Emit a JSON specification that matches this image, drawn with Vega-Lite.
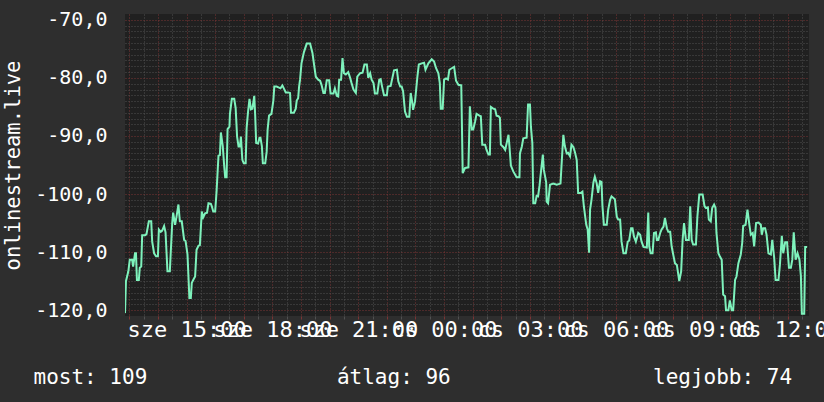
{
  "$schema": "https://vega.github.io/schema/vega-lite/v6.json",
  "width": 684,
  "height": 302,
  "autosize": {"type": "none"},
  "padding": {"left": 125, "top": 14, "right": 15, "bottom": 86},
  "background": "#2e2e2e",
  "view": {"fill": "#202020", "stroke": null},
  "config": {"font": "DejaVu Sans Mono"},
  "data": {"values": [
        {"t":"2024-01-03T12:51","v":-120.5},{"t":"2024-01-03T12:53","v":-115.0},{"t":"2024-01-03T12:58","v":-113.3},{"t":"2024-01-03T13:01","v":-111.3},{"t":"2024-01-03T13:06","v":-111.3},{"t":"2024-01-03T13:08","v":-112.5},{"t":"2024-01-03T13:12","v":-110.2},{"t":"2024-01-03T13:14","v":-110.2},{"t":"2024-01-03T13:16","v":-114.8},{"t":"2024-01-03T13:20","v":-114.8},{"t":"2024-01-03T13:22","v":-112.7},{"t":"2024-01-03T13:25","v":-112.5},{"t":"2024-01-03T13:27","v":-107.1},{"t":"2024-01-03T13:33","v":-107.1},{"t":"2024-01-03T13:36","v":-106.9},{"t":"2024-01-03T13:41","v":-104.7},{"t":"2024-01-03T13:46","v":-104.7},{"t":"2024-01-03T13:48","v":-108.2},{"t":"2024-01-03T13:52","v":-110.2},{"t":"2024-01-03T13:56","v":-110.7},{"t":"2024-01-03T14:00","v":-110.7},{"t":"2024-01-03T14:02","v":-106.1},{"t":"2024-01-03T14:06","v":-106.5},{"t":"2024-01-03T14:09","v":-106.3},{"t":"2024-01-03T14:13","v":-105.5},{"t":"2024-01-03T14:16","v":-106.6},{"t":"2024-01-03T14:20","v":-113.3},{"t":"2024-01-03T14:25","v":-113.3},{"t":"2024-01-03T14:27","v":-109.9},{"t":"2024-01-03T14:30","v":-105.0},{"t":"2024-01-03T14:32","v":-103.2},{"t":"2024-01-03T14:36","v":-105.3},{"t":"2024-01-03T14:39","v":-103.9},{"t":"2024-01-03T14:43","v":-101.8},{"t":"2024-01-03T14:46","v":-104.7},{"t":"2024-01-03T14:50","v":-104.7},{"t":"2024-01-03T14:55","v":-107.9},{"t":"2024-01-03T14:58","v":-108.1},{"t":"2024-01-03T15:02","v":-110.4},{"t":"2024-01-03T15:06","v":-117.9},{"t":"2024-01-03T15:09","v":-117.9},{"t":"2024-01-03T15:11","v":-115.3},{"t":"2024-01-03T15:14","v":-114.8},{"t":"2024-01-03T15:18","v":-114.2},{"t":"2024-01-03T15:21","v":-109.6},{"t":"2024-01-03T15:25","v":-108.9},{"t":"2024-01-03T15:28","v":-108.8},{"t":"2024-01-03T15:32","v":-103.0},{"t":"2024-01-03T15:35","v":-104.0},{"t":"2024-01-03T15:39","v":-103.3},{"t":"2024-01-03T15:43","v":-103.2},{"t":"2024-01-03T15:46","v":-101.6},{"t":"2024-01-03T15:51","v":-101.7},{"t":"2024-01-03T15:53","v":-102.1},{"t":"2024-01-03T15:56","v":-103.0},{"t":"2024-01-03T16:00","v":-103.0},{"t":"2024-01-03T16:03","v":-99.5},{"t":"2024-01-03T16:07","v":-93.4},{"t":"2024-01-03T16:10","v":-93.3},{"t":"2024-01-03T16:12","v":-89.4},{"t":"2024-01-03T16:16","v":-91.8},{"t":"2024-01-03T16:19","v":-95.2},{"t":"2024-01-03T16:21","v":-97.1},{"t":"2024-01-03T16:24","v":-97.1},{"t":"2024-01-03T16:26","v":-88.8},{"t":"2024-01-03T16:30","v":-88.4},{"t":"2024-01-03T16:31","v":-86.2},{"t":"2024-01-03T16:35","v":-83.6},{"t":"2024-01-03T16:40","v":-83.6},{"t":"2024-01-03T16:43","v":-85.2},{"t":"2024-01-03T16:46","v":-90.1},{"t":"2024-01-03T16:49","v":-91.8},{"t":"2024-01-03T16:52","v":-91.8},{"t":"2024-01-03T16:54","v":-90.1},{"t":"2024-01-03T16:57","v":-94.1},{"t":"2024-01-03T17:00","v":-94.7},{"t":"2024-01-03T17:04","v":-94.7},{"t":"2024-01-03T17:06","v":-88.6},{"t":"2024-01-03T17:09","v":-85.8},{"t":"2024-01-03T17:12","v":-83.6},{"t":"2024-01-03T17:15","v":-85.4},{"t":"2024-01-03T17:18","v":-85.3},{"t":"2024-01-03T17:20","v":-84.2},{"t":"2024-01-03T17:22","v":-83.1},{"t":"2024-01-03T17:24","v":-86.6},{"t":"2024-01-03T17:26","v":-91.2},{"t":"2024-01-03T17:30","v":-91.3},{"t":"2024-01-03T17:33","v":-90.3},{"t":"2024-01-03T17:35","v":-90.3},{"t":"2024-01-03T17:38","v":-91.8},{"t":"2024-01-03T17:40","v":-94.7},{"t":"2024-01-03T17:45","v":-94.7},{"t":"2024-01-03T17:48","v":-92.7},{"t":"2024-01-03T17:50","v":-88.9},{"t":"2024-01-03T17:53","v":-86.5},{"t":"2024-01-03T17:58","v":-86.2},{"t":"2024-01-03T18:02","v":-83.9},{"t":"2024-01-03T18:04","v":-81.5},{"t":"2024-01-03T18:09","v":-81.5},{"t":"2024-01-03T18:17","v":-81.8},{"t":"2024-01-03T18:21","v":-81.3},{"t":"2024-01-03T18:28","v":-82.5},{"t":"2024-01-03T18:33","v":-82.5},{"t":"2024-01-03T18:37","v":-82.6},{"t":"2024-01-03T18:39","v":-86.0},{"t":"2024-01-03T18:45","v":-86.0},{"t":"2024-01-03T18:49","v":-85.3},{"t":"2024-01-03T18:51","v":-83.9},{"t":"2024-01-03T18:54","v":-83.5},{"t":"2024-01-03T18:56","v":-81.5},{"t":"2024-01-03T18:58","v":-80.3},{"t":"2024-01-03T19:01","v":-77.5},{"t":"2024-01-03T19:06","v":-75.6},{"t":"2024-01-03T19:12","v":-74.1},{"t":"2024-01-03T19:19","v":-74.1},{"t":"2024-01-03T19:24","v":-75.7},{"t":"2024-01-03T19:27","v":-77.5},{"t":"2024-01-03T19:31","v":-79.8},{"t":"2024-01-03T19:36","v":-80.3},{"t":"2024-01-03T19:40","v":-80.5},{"t":"2024-01-03T19:43","v":-81.2},{"t":"2024-01-03T19:47","v":-82.6},{"t":"2024-01-03T19:50","v":-82.6},{"t":"2024-01-03T19:54","v":-80.4},{"t":"2024-01-03T19:59","v":-80.4},{"t":"2024-01-03T20:02","v":-82.7},{"t":"2024-01-03T20:08","v":-82.7},{"t":"2024-01-03T20:11","v":-81.8},{"t":"2024-01-03T20:15","v":-83.1},{"t":"2024-01-03T20:18","v":-83.2},{"t":"2024-01-03T20:20","v":-80.3},{"t":"2024-01-03T20:24","v":-80.3},{"t":"2024-01-03T20:27","v":-76.6},{"t":"2024-01-03T20:30","v":-79.2},{"t":"2024-01-03T20:34","v":-79.4},{"t":"2024-01-03T20:39","v":-79.0},{"t":"2024-01-03T20:43","v":-80.0},{"t":"2024-01-03T20:46","v":-80.9},{"t":"2024-01-03T20:50","v":-82.0},{"t":"2024-01-03T20:55","v":-82.6},{"t":"2024-01-03T20:58","v":-79.8},{"t":"2024-01-03T21:04","v":-79.2},{"t":"2024-01-03T21:09","v":-79.1},{"t":"2024-01-03T21:13","v":-77.7},{"t":"2024-01-03T21:18","v":-77.7},{"t":"2024-01-03T21:21","v":-80.0},{"t":"2024-01-03T21:25","v":-79.2},{"t":"2024-01-03T21:28","v":-80.3},{"t":"2024-01-03T21:32","v":-80.9},{"t":"2024-01-03T21:35","v":-82.7},{"t":"2024-01-03T21:40","v":-82.7},{"t":"2024-01-03T21:44","v":-80.3},{"t":"2024-01-03T21:47","v":-80.2},{"t":"2024-01-03T21:50","v":-81.5},{"t":"2024-01-03T21:54","v":-83.0},{"t":"2024-01-03T22:00","v":-83.0},{"t":"2024-01-03T22:02","v":-81.5},{"t":"2024-01-03T22:08","v":-81.4},{"t":"2024-01-03T22:10","v":-80.6},{"t":"2024-01-03T22:15","v":-78.7},{"t":"2024-01-03T22:21","v":-78.6},{"t":"2024-01-03T22:24","v":-80.6},{"t":"2024-01-03T22:28","v":-81.5},{"t":"2024-01-03T22:31","v":-81.5},{"t":"2024-01-03T22:34","v":-82.3},{"t":"2024-01-03T22:38","v":-85.8},{"t":"2024-01-03T22:42","v":-86.7},{"t":"2024-01-03T22:47","v":-86.7},{"t":"2024-01-03T22:50","v":-82.6},{"t":"2024-01-03T22:53","v":-84.1},{"t":"2024-01-03T22:55","v":-85.5},{"t":"2024-01-03T22:59","v":-84.1},{"t":"2024-01-03T23:04","v":-79.8},{"t":"2024-01-03T23:07","v":-77.7},{"t":"2024-01-03T23:13","v":-77.5},{"t":"2024-01-03T23:18","v":-77.4},{"t":"2024-01-03T23:21","v":-78.6},{"t":"2024-01-03T23:27","v":-77.5},{"t":"2024-01-03T23:34","v":-76.8},{"t":"2024-01-03T23:39","v":-77.2},{"t":"2024-01-03T23:43","v":-78.3},{"t":"2024-01-03T23:48","v":-79.2},{"t":"2024-01-03T23:51","v":-80.9},{"t":"2024-01-03T23:53","v":-85.3},{"t":"2024-01-03T23:57","v":-85.3},
        {"t":"2024-01-04T00:00","v":-80.3},{"t":"2024-01-04T00:04","v":-80.1},{"t":"2024-01-04T00:08","v":-80.3},{"t":"2024-01-04T00:11","v":-78.6},{"t":"2024-01-04T00:17","v":-78.3},{"t":"2024-01-04T00:21","v":-78.1},{"t":"2024-01-04T00:25","v":-80.5},{"t":"2024-01-04T00:30","v":-81.2},{"t":"2024-01-04T00:36","v":-81.3},{"t":"2024-01-04T00:39","v":-96.4},{"t":"2024-01-04T00:44","v":-95.5},{"t":"2024-01-04T00:51","v":-95.4},{"t":"2024-01-04T00:54","v":-84.9},{"t":"2024-01-04T00:58","v":-88.9},{"t":"2024-01-04T01:01","v":-88.9},{"t":"2024-01-04T01:05","v":-87.5},{"t":"2024-01-04T01:08","v":-86.2},{"t":"2024-01-04T01:14","v":-86.5},{"t":"2024-01-04T01:17","v":-86.6},{"t":"2024-01-04T01:20","v":-91.5},{"t":"2024-01-04T01:26","v":-91.5},{"t":"2024-01-04T01:29","v":-92.4},{"t":"2024-01-04T01:33","v":-93.2},{"t":"2024-01-04T01:36","v":-93.2},{"t":"2024-01-04T01:38","v":-85.0},{"t":"2024-01-04T01:43","v":-85.3},{"t":"2024-01-04T01:47","v":-85.4},{"t":"2024-01-04T01:50","v":-86.5},{"t":"2024-01-04T01:54","v":-86.6},{"t":"2024-01-04T01:57","v":-86.9},{"t":"2024-01-04T01:59","v":-91.5},{"t":"2024-01-04T02:04","v":-91.9},{"t":"2024-01-04T02:08","v":-92.4},{"t":"2024-01-04T02:11","v":-91.3},{"t":"2024-01-04T02:15","v":-89.8},{"t":"2024-01-04T02:17","v":-91.8},{"t":"2024-01-04T02:20","v":-95.1},{"t":"2024-01-04T02:25","v":-96.1},{"t":"2024-01-04T02:32","v":-97.1},{"t":"2024-01-04T02:38","v":-97.1},{"t":"2024-01-04T02:39","v":-93.0},{"t":"2024-01-04T02:43","v":-91.8},{"t":"2024-01-04T02:46","v":-90.4},{"t":"2024-01-04T02:53","v":-90.3},{"t":"2024-01-04T02:56","v":-84.6},{"t":"2024-01-04T03:00","v":-84.6},{"t":"2024-01-04T03:02","v":-88.4},{"t":"2024-01-04T03:05","v":-91.2},{"t":"2024-01-04T03:07","v":-101.6},{"t":"2024-01-04T03:11","v":-101.6},{"t":"2024-01-04T03:14","v":-100.3},{"t":"2024-01-04T03:17","v":-100.4},{"t":"2024-01-04T03:20","v":-98.6},{"t":"2024-01-04T03:22","v":-97.0},{"t":"2024-01-04T03:27","v":-93.2},{"t":"2024-01-04T03:29","v":-95.8},{"t":"2024-01-04T03:34","v":-98.0},{"t":"2024-01-04T03:35","v":-101.3},{"t":"2024-01-04T03:38","v":-101.6},{"t":"2024-01-04T03:42","v":-98.4},{"t":"2024-01-04T03:49","v":-98.2},{"t":"2024-01-04T03:56","v":-98.4},{"t":"2024-01-04T04:04","v":-98.2},{"t":"2024-01-04T04:08","v":-92.5},{"t":"2024-01-04T04:10","v":-89.8},{"t":"2024-01-04T04:13","v":-91.7},{"t":"2024-01-04T04:17","v":-93.0},{"t":"2024-01-04T04:20","v":-92.9},{"t":"2024-01-04T04:24","v":-93.5},{"t":"2024-01-04T04:27","v":-91.5},{"t":"2024-01-04T04:31","v":-91.9},{"t":"2024-01-04T04:34","v":-92.7},{"t":"2024-01-04T04:38","v":-94.1},{"t":"2024-01-04T04:41","v":-99.8},{"t":"2024-01-04T04:47","v":-99.8},{"t":"2024-01-04T04:50","v":-99.6},{"t":"2024-01-04T04:53","v":-102.1},{"t":"2024-01-04T04:58","v":-105.3},{"t":"2024-01-04T05:01","v":-106.1},{"t":"2024-01-04T05:04","v":-110.1},{"t":"2024-01-04T05:06","v":-102.7},{"t":"2024-01-04T05:09","v":-101.0},{"t":"2024-01-04T05:13","v":-98.0},{"t":"2024-01-04T05:16","v":-97.0},{"t":"2024-01-04T05:20","v":-98.2},{"t":"2024-01-04T05:23","v":-99.8},{"t":"2024-01-04T05:27","v":-97.8},{"t":"2024-01-04T05:30","v":-97.9},{"t":"2024-01-04T05:32","v":-102.1},{"t":"2024-01-04T05:35","v":-105.3},{"t":"2024-01-04T05:41","v":-105.3},{"t":"2024-01-04T05:44","v":-102.7},{"t":"2024-01-04T05:48","v":-101.0},{"t":"2024-01-04T05:51","v":-100.4},{"t":"2024-01-04T05:58","v":-100.9},{"t":"2024-01-04T06:02","v":-103.9},{"t":"2024-01-04T06:05","v":-104.4},{"t":"2024-01-04T06:09","v":-104.4},{"t":"2024-01-04T06:12","v":-108.2},{"t":"2024-01-04T06:16","v":-110.2},{"t":"2024-01-04T06:21","v":-110.2},{"t":"2024-01-04T06:25","v":-108.2},{"t":"2024-01-04T06:28","v":-108.0},{"t":"2024-01-04T06:32","v":-105.9},{"t":"2024-01-04T06:35","v":-105.9},{"t":"2024-01-04T06:38","v":-107.3},{"t":"2024-01-04T06:42","v":-108.2},{"t":"2024-01-04T06:47","v":-106.7},{"t":"2024-01-04T06:51","v":-107.0},{"t":"2024-01-04T06:54","v":-108.2},{"t":"2024-01-04T06:58","v":-109.1},{"t":"2024-01-04T07:05","v":-109.2},{"t":"2024-01-04T07:08","v":-103.2},{"t":"2024-01-04T07:10","v":-109.0},{"t":"2024-01-04T07:13","v":-110.2},{"t":"2024-01-04T07:17","v":-110.2},{"t":"2024-01-04T07:20","v":-106.7},{"t":"2024-01-04T07:24","v":-106.6},{"t":"2024-01-04T07:26","v":-107.9},{"t":"2024-01-04T07:29","v":-107.9},{"t":"2024-01-04T07:33","v":-106.7},{"t":"2024-01-04T07:36","v":-106.1},{"t":"2024-01-04T07:40","v":-105.6},{"t":"2024-01-04T07:43","v":-104.1},{"t":"2024-01-04T07:47","v":-105.9},{"t":"2024-01-04T07:50","v":-106.5},{"t":"2024-01-04T07:54","v":-106.5},{"t":"2024-01-04T07:57","v":-109.0},{"t":"2024-01-04T08:01","v":-110.7},{"t":"2024-01-04T08:04","v":-111.9},{"t":"2024-01-04T08:08","v":-112.2},{"t":"2024-01-04T08:10","v":-113.3},{"t":"2024-01-04T08:13","v":-115.0},{"t":"2024-01-04T08:17","v":-113.3},{"t":"2024-01-04T08:20","v":-107.9},{"t":"2024-01-04T08:23","v":-105.0},{"t":"2024-01-04T08:27","v":-107.9},{"t":"2024-01-04T08:33","v":-107.9},{"t":"2024-01-04T08:36","v":-102.1},{"t":"2024-01-04T08:39","v":-107.9},{"t":"2024-01-04T08:42","v":-108.7},{"t":"2024-01-04T08:48","v":-108.7},{"t":"2024-01-04T08:51","v":-103.9},{"t":"2024-01-04T08:55","v":-100.1},{"t":"2024-01-04T09:02","v":-100.1},{"t":"2024-01-04T09:06","v":-102.1},{"t":"2024-01-04T09:09","v":-102.4},{"t":"2024-01-04T09:13","v":-102.3},{"t":"2024-01-04T09:15","v":-104.4},{"t":"2024-01-04T09:19","v":-104.7},{"t":"2024-01-04T09:22","v":-102.4},{"t":"2024-01-04T09:26","v":-101.8},{"t":"2024-01-04T09:29","v":-102.4},{"t":"2024-01-04T09:31","v":-106.7},{"t":"2024-01-04T09:35","v":-110.2},{"t":"2024-01-04T09:38","v":-110.7},{"t":"2024-01-04T09:42","v":-111.3},{"t":"2024-01-04T09:45","v":-117.3},{"t":"2024-01-04T09:49","v":-117.6},{"t":"2024-01-04T09:51","v":-120.0},{"t":"2024-01-04T09:56","v":-120.0},{"t":"2024-01-04T09:59","v":-118.3},{"t":"2024-01-04T10:03","v":-120.0},{"t":"2024-01-04T10:06","v":-120.0},{"t":"2024-01-04T10:10","v":-114.8},{"t":"2024-01-04T10:13","v":-114.2},{"t":"2024-01-04T10:17","v":-111.9},{"t":"2024-01-04T10:22","v":-110.4},{"t":"2024-01-04T10:25","v":-108.4},{"t":"2024-01-04T10:27","v":-105.5},{"t":"2024-01-04T10:32","v":-105.3},{"t":"2024-01-04T10:36","v":-102.7},{"t":"2024-01-04T10:40","v":-105.3},{"t":"2024-01-04T10:43","v":-107.0},{"t":"2024-01-04T10:47","v":-106.7},{"t":"2024-01-04T10:50","v":-109.0},{"t":"2024-01-04T10:54","v":-105.0},{"t":"2024-01-04T10:59","v":-104.9},{"t":"2024-01-04T11:04","v":-105.3},{"t":"2024-01-04T11:06","v":-107.0},{"t":"2024-01-04T11:09","v":-105.9},{"t":"2024-01-04T11:13","v":-105.9},{"t":"2024-01-04T11:16","v":-107.0},{"t":"2024-01-04T11:20","v":-110.2},{"t":"2024-01-04T11:25","v":-110.4},{"t":"2024-01-04T11:28","v":-107.9},{"t":"2024-01-04T11:32","v":-111.0},{"t":"2024-01-04T11:35","v":-114.8},{"t":"2024-01-04T11:41","v":-114.8},{"t":"2024-01-04T11:44","v":-112.2},{"t":"2024-01-04T11:48","v":-107.2},{"t":"2024-01-04T11:51","v":-110.2},{"t":"2024-01-04T11:55","v":-108.3},{"t":"2024-01-04T11:59","v":-108.3},{"t":"2024-01-04T12:03","v":-112.7},{"t":"2024-01-04T12:07","v":-112.7},{"t":"2024-01-04T12:10","v":-111.3},{"t":"2024-01-04T12:13","v":-106.6},{"t":"2024-01-04T12:17","v":-111.3},{"t":"2024-01-04T12:21","v":-110.2},{"t":"2024-01-04T12:25","v":-111.3},{"t":"2024-01-04T12:28","v":-114.1},{"t":"2024-01-04T12:30","v":-120.6},{"t":"2024-01-04T12:35","v":-120.6},{"t":"2024-01-04T12:37","v":-109.1},{"t":"2024-01-04T12:41","v":-109.1}
  ]},
  "mark": {"type": "line", "color": "#7ef2bc", "strokeWidth": 2, "clip": true},
  "encoding": {
    "x": {
      "field": "t",
      "type": "temporal",
      "scale": {"domain": [{"year": 2024, "month": 1, "date": 3, "hours": 12, "minutes": 51}, {"year": 2024, "month": 1, "date": 4, "hours": 12, "minutes": 45}], "nice": false},
      "axis": {
        "tickCount": 48,
        "grid": true,
        "gridColor": {"condition": {"test": "minutes(datum.value) == 0", "value": "#7a3434"}, "value": "#515151"},
        "gridDash": [1, 2],
        "tickColor": {"condition": {"test": "minutes(datum.value) == 0", "value": "#7a3434"}, "value": "#515151"},
        "tickSize": 3,
        "domain": false,
        "labelExpr": "minutes(datum.value) == 0 && hours(datum.value) % 3 == 0 ? (day(datum.value) == 3 ? 'sze ' : 'cs ') + timeFormat(datum.value, '%H:%M') : ''",
        "labelOverlap": false,
        "labelFlush": false,
        "labelBound": false,
        "labelFont": "DejaVu Sans Mono",
        "labelFontSize": 22,
        "labelColor": "#ffffff",
        "labelPadding": 0,
        "title": "most: 109\u00a0\u00a0\u00a0\u00a0\u00a0\u00a0\u00a0\u00a0\u00a0\u00a0\u00a0\u00a0\u00a0\u00a0\u00a0átlag: 96\u00a0\u00a0\u00a0\u00a0\u00a0\u00a0\u00a0\u00a0\u00a0\u00a0\u00a0\u00a0\u00a0\u00a0\u00a0\u00a0legjobb: 74",
        "titleFont": "DejaVu Sans Mono",
        "titleFontSize": 21,
        "titleFontWeight": "normal",
        "titleColor": "#ffffff",
        "titleX": -92,
        "titleY": 67,
        "titleAlign": "left",
        "titleBaseline": "alphabetic"
      }
    },
    "y": {
      "field": "v",
      "type": "quantitative",
      "scale": {"domain": [-121, -69], "nice": false, "zero": false},
      "axis": {
        "values": [-120,-119,-118,-117,-116,-115,-114,-113,-112,-111,-110,-109,-108,-107,-106,-105,-104,-103,-102,-101,-100,-99,-98,-97,-96,-95,-94,-93,-92,-91,-90,-89,-88,-87,-86,-85,-84,-83,-82,-81,-80,-79,-78,-77,-76,-75,-74,-73,-72,-71,-70],
        "grid": true,
        "gridColor": {"condition": {"test": "datum.value % 10 == 0", "value": "#7a3434"}, "value": "#515151"},
        "gridDash": [1, 2],
        "ticks": false,
        "domain": false,
        "labelExpr": "datum.value % 10 == 0 ? datum.value + ',0' : ''",
        "labelOverlap": false,
        "labelFont": "DejaVu Sans Mono",
        "labelFontSize": 20,
        "labelColor": "#ffffff",
        "labelPadding": 18,
        "title": "onlinestream.live",
        "titleFont": "DejaVu Sans Mono",
        "titleFontSize": 20.5,
        "titleFontWeight": "normal",
        "titleColor": "#ffffff",
        "titlePadding": 11
      }
    }
  }
}
